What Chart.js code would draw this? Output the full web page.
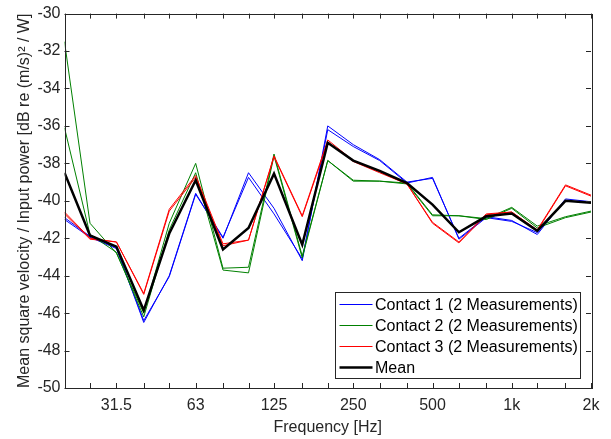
<!DOCTYPE html>
<html>
<head>
<meta charset="utf-8">
<script src="https://cdn.jsdelivr.net/npm/chart.js@4/dist/chart.umd.min.js"></script>
<style>
  html, body { margin: 0; padding: 0; background: #fff; }
  #wrap { width: 611px; height: 439px; }
</style>
</head>
<body>
<div id="wrap"><canvas id="myChart" width="611" height="439"></canvas></div>
<script>
// third-octave band centre frequencies [Hz]
const freqs = [20, 25, 31.5, 40, 50, 63, 80, 100, 125, 160, 200, 250, 315, 400, 500, 630, 800, 1000, 1250, 1600, 2000];
const xTickLabels = { 31.5: '31.5', 63: '63', 125: '125', 250: '250', 500: '500', 1000: '1k', 2000: '2k' };

// mean square velocity / input power [dB]
const contact1a = [-40.9, -41.9, -42.5, -46.5, -44.0, -39.6, -42.0, -38.5, -40.4, -43.2, -36.0, -37.0, -37.8, -39.0, -38.8, -42.0, -40.85, -41.05, -41.8, -39.9, -40.05];
const contact1b = [-41.0, -41.95, -42.55, -46.4, -44.05, -39.65, -41.95, -38.75, -40.7, -43.1, -36.2, -37.1, -37.85, -39.05, -38.75, -42.05, -40.9, -41.1, -41.7, -40.0, -40.1];
const contact2a = [-31.5, -41.2, -42.8, -46.0, -41.2, -38.0, -43.6, -43.55, -37.5, -42.95, -37.85, -38.9, -38.95, -39.05, -40.75, -40.8, -40.95, -40.35, -41.35, -40.85, -40.55];
const contact2b = [-36.1, -41.8, -42.75, -46.2, -41.55, -38.5, -43.7, -43.85, -37.6, -43.05, -37.85, -38.95, -38.95, -39.1, -40.8, -40.8, -41.0, -40.4, -41.45, -40.9, -40.6];
const contact3a = [-40.6, -42.0, -42.2, -44.95, -40.45, -38.65, -42.3, -42.1, -37.6, -40.8, -36.75, -37.85, -38.45, -39.1, -41.15, -42.2, -40.7, -40.6, -41.55, -39.15, -39.7];
const contact3b = [-40.7, -42.05, -42.2, -45.0, -40.55, -38.75, -42.4, -42.1, -37.65, -40.85, -36.85, -37.9, -38.5, -39.1, -41.2, -42.25, -40.75, -40.6, -41.6, -39.2, -39.75];
const meanLevel = [-38.5, -41.85, -42.45, -45.85, -41.75, -38.9, -42.6, -41.45, -38.55, -42.35, -36.9, -37.85, -38.4, -39.05, -40.2, -41.68, -40.83, -40.68, -41.6, -40.0, -40.1];

const axisColor = '#262626';
const fontFamily = '"Liberation Sans", Arial, Helvetica, sans-serif';
const fontSize = 16;

function toPoints(values) {
    return freqs.map((f, i) => ({ x: f, y: values[i] }));
}

function lineSet(label, values, color, width, order, inLegend) {
    return {
        label: label,
        data: toPoints(values),
        borderColor: color,
        backgroundColor: color,
        borderWidth: width,
        pointRadius: 0,
        tension: 0,
        fill: false,
        order: order,
        inLegend: inLegend
    };
}

// box, inward ticks on all four sides, and the legend inside the axes
const matlabFrame = {
    id: 'matlabFrame',
    afterDatasetsDraw(chart) {
        const ctx = chart.ctx;
        const a = chart.chartArea;
        const xs = chart.scales.x;
        const ys = chart.scales.y;
        const len = 5;
        ctx.save();
        ctx.strokeStyle = axisColor;
        ctx.lineWidth = 1;
        ctx.beginPath();
        xs.ticks.forEach(t => {
            const px = Math.round(xs.getPixelForValue(t.value)) + 0.5;
            ctx.moveTo(px, a.bottom); ctx.lineTo(px, a.bottom - len);
            ctx.moveTo(px, a.top); ctx.lineTo(px, a.top + len);
        });
        ys.ticks.forEach(t => {
            const py = Math.round(ys.getPixelForValue(t.value)) + 0.5;
            ctx.moveTo(a.left, py); ctx.lineTo(a.left + len, py);
            ctx.moveTo(a.right, py); ctx.lineTo(a.right - len, py);
        });
        ctx.stroke();
        ctx.strokeRect(Math.round(a.left) + 0.5, Math.round(a.top) + 0.5,
            Math.round(a.right - a.left), Math.round(a.bottom - a.top));

        // legend
        const items = chart.data.datasets.filter(d => d.inLegend);
        const box = { x: 335.5, y: 292.5, w: 245, h: 86 };
        ctx.fillStyle = '#fff';
        ctx.fillRect(box.x, box.y, box.w, box.h);
        ctx.strokeRect(box.x, box.y, box.w, box.h);
        ctx.font = fontSize + 'px ' + fontFamily;
        ctx.textBaseline = 'middle';
        items.forEach((d, i) => {
            const ry = box.y + 12 + i * 21;
            ctx.strokeStyle = d.borderColor;
            ctx.lineWidth = d.borderWidth;
            ctx.beginPath();
            ctx.moveTo(box.x + 4, ry);
            ctx.lineTo(box.x + 37, ry);
            ctx.stroke();
            ctx.fillStyle = '#000';
            ctx.fillText(d.label, box.x + 39.5, ry + 1);
        });
        ctx.restore();
    }
};

new Chart(document.getElementById('myChart').getContext('2d'), {
    type: 'line',
    data: {
        datasets: [
            lineSet('Contact 1 (2 Measurements)', contact1a, '#0000ff', 1, 6, true),
            lineSet('Contact 1 (2 Measurements)', contact1b, '#0000ff', 1, 5, false),
            lineSet('Contact 2 (2 Measurements)', contact2a, '#008000', 1, 4, true),
            lineSet('Contact 2 (2 Measurements)', contact2b, '#008000', 1, 3, false),
            lineSet('Contact 3 (2 Measurements)', contact3a, '#ff0000', 1, 2, true),
            lineSet('Contact 3 (2 Measurements)', contact3b, '#ff0000', 1, 1, false),
            lineSet('Mean', meanLevel, '#000000', 2.5, 0, true)
        ]
    },
    options: {
        responsive: false,
        animation: false,
        events: [],
        layout: { padding: { top: 9, right: 20, left: 0, bottom: 0 } },
        plugins: {
            legend: { display: false },
            tooltip: { enabled: false }
        },
        scales: {
            x: {
                type: 'logarithmic',
                min: 20,
                max: 2000,
                afterBuildTicks: scale => {
                    scale.ticks = freqs.map(f => ({ value: f }));
                },
                afterFit: scale => { scale.height = 51; },
                grid: { display: false, drawTicks: false },
                border: { display: false },
                ticks: {
                    autoSkip: false,
                    maxRotation: 0,
                    padding: 8,
                    color: axisColor,
                    font: { family: fontFamily, size: fontSize },
                    callback: function (value) { return xTickLabels[value] || ''; }
                },
                title: {
                    display: true,
                    text: 'Frequency [Hz]',
                    color: axisColor,
                    font: { family: fontFamily, size: fontSize },
                    padding: { top: 0, bottom: 2 }
                }
            },
            y: {
                min: -50,
                max: -30,
                afterFit: scale => { scale.width = 64.5; },
                grid: { display: false, drawTicks: false },
                border: { display: false },
                ticks: {
                    stepSize: 2,
                    padding: 4,
                    color: axisColor,
                    font: { family: fontFamily, size: fontSize }
                },
                title: {
                    display: true,
                    text: 'Mean square velocity / Input power [dB re (m/s)\u00b2 / W]',
                    color: axisColor,
                    font: { family: fontFamily, size: fontSize },
                    padding: { top: 15, bottom: 0 }
                }
            }
        }
    },
    plugins: [matlabFrame]
});
</script>
</body>
</html>
